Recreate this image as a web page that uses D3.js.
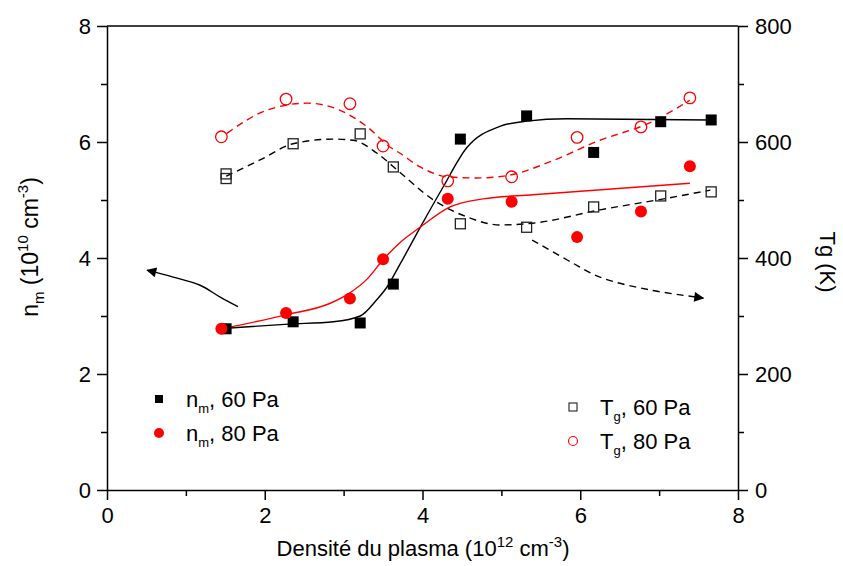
<!DOCTYPE html>
<html>
<head>
<meta charset="utf-8">
<script src="https://cdn.jsdelivr.net/npm/d3@7"></script>
<style>
  body { margin: 0; background: #fff; }
  svg { font-family: "Liberation Sans", Arial, sans-serif; }
</style>
</head>
<body>
<div id="chart"></div>
<script>
// measured points [density, value]
const nm60 = [[1.51,2.78],[2.36,2.9],[3.21,2.88],[3.63,3.55],[4.48,6.05],[5.32,6.45],[6.17,5.82],[7.02,6.35],[7.66,6.38]];
const nm80 = [[1.45,2.78],[2.27,3.05],[3.08,3.3],[3.5,3.98],[4.32,5.02],[5.13,4.97],[5.96,4.36],[6.77,4.8],[7.39,5.58]];
const tg60 = [[1.51,545],[1.51,537],[2.36,597],[3.21,614],[3.63,557],[4.48,459],[5.32,453],[6.17,488],[7.02,507],[7.66,514]];
const tg80 = [[1.45,609],[2.27,674],[3.08,666],[3.5,593],[4.32,533],[5.13,540],[5.96,608],[6.77,626],[7.39,676]];

// guide curves
const fitNm60 = [[1.52,2.79],[2.3,2.86],[2.87,2.9],[3.21,3.0],[3.42,3.28],[3.55,3.5],[3.71,3.88],[3.98,4.55],[4.26,5.22],[4.56,5.9],[4.98,6.27],[5.32,6.36],[5.83,6.4],[7.65,6.38]];
const fitNm80 = [[1.45,2.78],[2.27,3.02],[2.83,3.22],[3.08,3.4],[3.3,3.64],[3.5,3.97],[3.71,4.26],[3.97,4.53],[4.35,4.88],[4.77,5.02],[5.4,5.09],[7.39,5.29]];
const fitTg60 = [[1.51,541],[1.94,569],[2.36,597],[2.87,605],[3.12,603],[3.42,581],[3.71,548],[4.14,500],[4.56,471],[4.98,457],[5.4,460],[6.25,483],[7.1,503],[7.65,517]];
const fitTg80 = [[1.52,615],[2.03,655],[2.54,667],[2.95,655],[3.3,626],[3.59,591],[3.71,581],[3.97,557],[4.32,540],[4.69,538],[5.11,543],[5.62,566],[6.25,603],[6.88,633],[7.39,672]];

// arrows pointing to the matching axis
const arrowLeft = [[1.66,3.16],[1.43,3.33],[1.18,3.53],[0.84,3.67],[0.51,3.79]];   // n_m units
const arrowRight = [[5.39,431],[5.83,397],[6.25,367],[6.88,345],[7.56,331]];      // Tg units

const xTicks = [0, 2, 4, 6, 8];
const xMinor = [1, 3, 5, 7];
const yLeftTicks = [0, 2, 4, 6, 8];
const yLeftMinor = [1, 3, 5, 7];
const yRightTicks = [0, 200, 400, 600, 800];
const yRightMinor = [100, 300, 500, 700];

const width = 843, height = 566;
const margin = { left: 107, right: 105, top: 26, bottom: 76 };
const red = '#ff0000';

const svg = d3.select('#chart').append('svg')
  .attr('width', width)
  .attr('height', height);

const x = d3.scaleLinear().domain([0, 8]).range([margin.left, width - margin.right]);
const yL = d3.scaleLinear().domain([0, 8]).range([height - margin.bottom, margin.top]);
const yR = d3.scaleLinear().domain([0, 800]).range([height - margin.bottom, margin.top]);

// arrow head
const defs = svg.append('defs');
defs.append('marker')
  .attr('id', 'head')
  .attr('viewBox', '0 0 10 10')
  .attr('refX', 9).attr('refY', 5)
  .attr('markerWidth', 14).attr('markerHeight', 10)
  .attr('markerUnits', 'userSpaceOnUse')
  .attr('orient', 'auto')
  .append('path')
  .attr('d', 'M0,0L10,5L0,10Z')
  .attr('fill', '#000');

// axes
function styleAxis(g) {
  g.selectAll('path, line').attr('stroke', '#000').attr('stroke-width', 1.5);
  g.selectAll('text').attr('font-size', 22).attr('fill', '#000').attr('font-family', '"Liberation Sans", Arial, sans-serif');
}

const xAxis = svg.append('g')
  .attr('transform', `translate(0,${height - margin.bottom})`)
  .call(d3.axisBottom(x).tickValues(xTicks).tickSize(10).tickSizeOuter(0).tickPadding(7));
styleAxis(xAxis);
svg.append('g')
  .attr('transform', `translate(0,${height - margin.bottom})`)
  .call(d3.axisBottom(x).tickValues(xMinor).tickSize(6).tickFormat(''))
  .call(g => g.select('.domain').remove())
  .call(styleAxis);

const leftAxis = svg.append('g')
  .attr('transform', `translate(${margin.left},0)`)
  .call(d3.axisLeft(yL).tickValues(yLeftTicks).tickSize(10).tickSizeOuter(0).tickPadding(6));
styleAxis(leftAxis);
svg.append('g')
  .attr('transform', `translate(${margin.left},0)`)
  .call(d3.axisLeft(yL).tickValues(yLeftMinor).tickSize(6).tickFormat(''))
  .call(g => g.select('.domain').remove())
  .call(styleAxis);

const rightAxis = svg.append('g')
  .attr('transform', `translate(${width - margin.right},0)`)
  .call(d3.axisRight(yR).tickValues(yRightTicks).tickSize(10).tickSizeOuter(0).tickPadding(7));
styleAxis(rightAxis);
svg.append('g')
  .attr('transform', `translate(${width - margin.right},0)`)
  .call(d3.axisRight(yR).tickValues(yRightMinor).tickSize(6).tickFormat(''))
  .call(g => g.select('.domain').remove())
  .call(styleAxis);

// top frame line
svg.append('line')
  .attr('x1', x(0)).attr('x2', x(8))
  .attr('y1', yL(8)).attr('y2', yL(8))
  .attr('stroke', '#000').attr('stroke-width', 1.5);

// fitted curves
const lineL = d3.line().x(d => x(d[0])).y(d => yL(d[1])).curve(d3.curveMonotoneX);
const lineR = d3.line().x(d => x(d[0])).y(d => yR(d[1])).curve(d3.curveMonotoneX);
const arrowLineL = d3.line().x(d => x(d[0])).y(d => yL(d[1])).curve(d3.curveCatmullRom);
const arrowLineR = d3.line().x(d => x(d[0])).y(d => yR(d[1])).curve(d3.curveCatmullRom);

svg.append('path').datum(fitTg60).attr('d', lineR)
  .attr('fill', 'none').attr('stroke', '#000').attr('stroke-width', 1.4).attr('stroke-dasharray', '7,5');
svg.append('path').datum(fitTg80).attr('d', lineR)
  .attr('fill', 'none').attr('stroke', red).attr('stroke-width', 1.4).attr('stroke-dasharray', '7,5');
svg.append('path').datum(fitNm60).attr('d', lineL)
  .attr('fill', 'none').attr('stroke', '#000').attr('stroke-width', 1.4);
svg.append('path').datum(fitNm80).attr('d', lineL)
  .attr('fill', 'none').attr('stroke', red).attr('stroke-width', 1.4);

svg.append('path').datum(arrowLeft).attr('d', arrowLineL)
  .attr('fill', 'none').attr('stroke', '#000').attr('stroke-width', 1.4)
  .attr('marker-end', 'url(#head)');
svg.append('path').datum(arrowRight).attr('d', arrowLineR)
  .attr('fill', 'none').attr('stroke', '#000').attr('stroke-width', 1.4).attr('stroke-dasharray', '7,5')
  .attr('marker-end', 'url(#head)');

// points
const sq = 11, sqOpen = 10;
svg.append('g').selectAll('rect').data(tg60).join('rect')
  .attr('x', d => x(d[0]) - sqOpen / 2).attr('y', d => yR(d[1]) - sqOpen / 2)
  .attr('width', sqOpen).attr('height', sqOpen)
  .attr('fill', 'none').attr('stroke', '#222').attr('stroke-width', 1.3);
svg.append('g').selectAll('circle').data(tg80).join('circle')
  .attr('cx', d => x(d[0])).attr('cy', d => yR(d[1])).attr('r', 5.8)
  .attr('fill', 'none').attr('stroke', red).attr('stroke-width', 1.3);
svg.append('g').selectAll('rect').data(nm60).join('rect')
  .attr('x', d => x(d[0]) - sq / 2).attr('y', d => yL(d[1]) - sq / 2)
  .attr('width', sq).attr('height', sq)
  .attr('fill', '#000');
svg.append('g').selectAll('circle').data(nm80).join('circle')
  .attr('cx', d => x(d[0])).attr('cy', d => yL(d[1])).attr('r', 6)
  .attr('fill', red);

// legend
function legendLabel(g, tx, ty, main, sub, rest) {
  const t = g.append('text').attr('x', tx).attr('y', ty).attr('font-size', 22).attr('fill', '#000');
  t.append('tspan').text(main);
  t.append('tspan').attr('font-size', 13).attr('dy', 6).text(sub);
  t.append('tspan').attr('dy', -6).text(rest);
}
const leg = svg.append('g');
leg.append('rect').attr('x', 155).attr('y', 395).attr('width', 8).attr('height', 8).attr('fill', '#000');
legendLabel(leg, 186, 407, 'n', 'm', ', 60 Pa');
leg.append('circle').attr('cx', 159).attr('cy', 433).attr('r', 5).attr('fill', red);
legendLabel(leg, 186, 441, 'n', 'm', ', 80 Pa');

leg.append('rect').attr('x', 569).attr('y', 403).attr('width', 8).attr('height', 8)
  .attr('fill', 'none').attr('stroke', '#222').attr('stroke-width', 1.1);
legendLabel(leg, 600, 415, 'T', 'g', ', 60 Pa');
leg.append('circle').attr('cx', 573).attr('cy', 441).attr('r', 4.5)
  .attr('fill', 'none').attr('stroke', red).attr('stroke-width', 1.1);
legendLabel(leg, 600, 449, 'T', 'g', ', 80 Pa');

// axis titles
const xt = svg.append('text')
  .attr('x', 423).attr('y', 556).attr('text-anchor', 'middle').attr('font-size', 22).attr('fill', '#000');
xt.append('tspan').text('Densité du plasma (10');
xt.append('tspan').attr('font-size', 15).attr('dy', -9).text('12');
xt.append('tspan').attr('dy', 9).text(' cm');
xt.append('tspan').attr('font-size', 15).attr('dy', -9).text('-3');
xt.append('tspan').attr('dy', 9).text(')');

const ylt = svg.append('text')
  .attr('transform', 'translate(38,247) rotate(-90)')
  .attr('text-anchor', 'middle').attr('font-size', 23).attr('fill', '#000');
ylt.append('tspan').text('n');
ylt.append('tspan').attr('font-size', 15).attr('dy', 6).text('m');
ylt.append('tspan').attr('dy', -6).text(' (10');
ylt.append('tspan').attr('font-size', 15).attr('dy', -10).text('10');
ylt.append('tspan').attr('dy', 10).text('  cm');
ylt.append('tspan').attr('font-size', 15).attr('dy', -10).text('-3');
ylt.append('tspan').attr('dy', 10).text(')');

svg.append('text')
  .attr('transform', 'translate(820,262) rotate(90)')
  .attr('text-anchor', 'middle').attr('font-size', 22).attr('fill', '#000')
  .text('Tg (K)');
</script>
</body>
</html>
